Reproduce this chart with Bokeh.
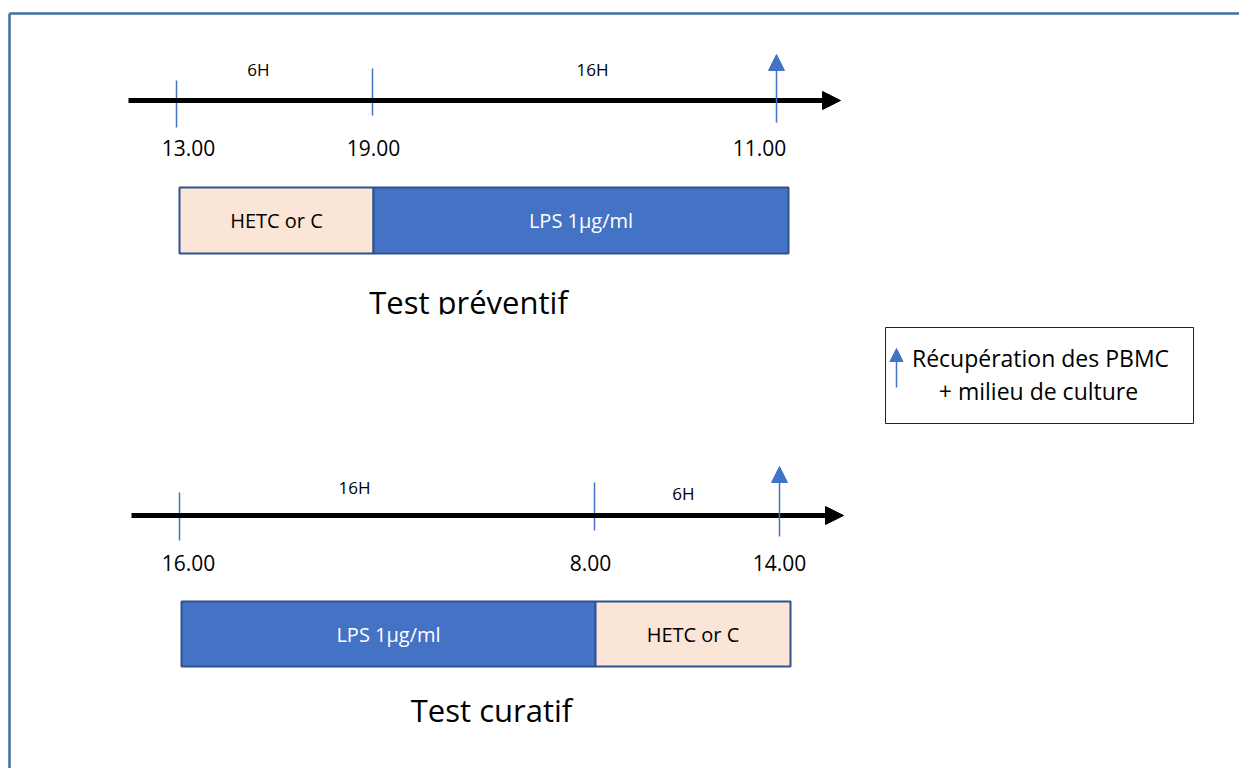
from bokeh.plotting import figure
from bokeh.models import Range1d, Arrow, NormalHead, ColumnDataSource
from bokeh.core.properties import value
from bokeh.embed import file_html
from bokeh.resources import INLINE

# ---------------- data ----------------
prev_times = ["13.00", "19.00", "11.00"]
prev_durations = ["6H", "16H"]
prev_segments = ["HETC or C", "LPS 1µg/ml"]
prev_title = "Test préventif"

cur_times = ["16.00", "8.00", "14.00"]
cur_durations = ["16H", "6H"]
cur_segments = ["LPS 1µg/ml", "HETC or C"]
cur_title = "Test curatif"

legend_lines = ["Récupération des PBMC", "+ milieu de culture"]

# ---------------- layout (pixel coordinates) ----------------
FONT = "Open Sans"
BLUE = "#4472C4"
PEACH = "#FBE5D6"
EDGE = "#2F528F"
FRAME = "#41719C"

W, H = 1239, 768
p = figure(width=W, height=H, output_backend="svg", toolbar_location=None,
           x_range=Range1d(0, W), y_range=Range1d(H, 0),
           min_border=0, outline_line_color=None)
p.axis.visible = False
p.grid.visible = False

# outer frame (top and left edges visible)
p.segment(x0=[9, 9], y0=[13, 13], x1=[W + 50, 9], y1=[13, H + 50],
          line_color=FRAME, line_width=2.5)

seg_fill = {"HETC or C": PEACH, "LPS 1µg/ml": BLUE}
seg_text = {"HETC or C": "black", "LPS 1µg/ml": "white"}


def timeline(y, x0, x1, tick_x, tick_y0, tick_y1, times, time_x,
             durations, dur_x, dur_y, arrow_x, arrow_y0, arrow_y1,
             segments, seg_edges, bar_top, bar_bottom, title, title_x, title_y):
    # main black arrow
    p.add_layout(Arrow(end=NormalHead(size=18, fill_color="black", line_color="black"),
                       x_start=x0, y_start=y, x_end=x1, y_end=y,
                       line_color="black", line_width=5))
    # tick marks
    p.segment(x0=tick_x, y0=tick_y0, x1=tick_x, y1=tick_y1,
              line_color=BLUE, line_width=1.5)
    # harvest arrow
    p.add_layout(Arrow(end=NormalHead(size=16, fill_color=BLUE, line_color=BLUE),
                       x_start=arrow_x, y_start=arrow_y0, x_end=arrow_x, y_end=arrow_y1,
                       line_color=BLUE, line_width=1.5))
    # time labels
    p.text(x=time_x, y=[y + 47] * len(times), text=times, text_align="center",
           text_baseline="middle", text_font=value(FONT), text_font_size="21px",
           text_color="black")
    # duration labels
    p.text(x=dur_x, y=dur_y, text=durations, text_align="center",
           text_baseline="middle", text_font=value(FONT), text_font_size="17px",
           text_color="black")
    # bars
    src = ColumnDataSource(dict(
        left=seg_edges[:-1], right=seg_edges[1:],
        top=[bar_top] * len(segments), bottom=[bar_bottom] * len(segments),
        fill=[seg_fill[s] for s in segments],
        tx=[(a + b) / 2 for a, b in zip(seg_edges[:-1], seg_edges[1:])],
        ty=[(bar_top + bar_bottom) / 2] * len(segments),
        label=segments, tc=[seg_text[s] for s in segments]))
    p.quad(left="left", right="right", top="top", bottom="bottom", source=src,
           fill_color="fill", line_color=EDGE, line_width=2)
    p.text(x="tx", y="ty", text="label", text_color="tc", source=src,
           text_align="center", text_baseline="middle", text_font=value(FONT),
           text_font_size="20px")
    # title
    p.text(x=[title_x], y=[title_y], text=[title], text_align="center",
           text_baseline="middle", text_font=value(FONT), text_font_size="31px",
           text_color="black")


timeline(y=100, x0=128, x1=840,
         tick_x=[176, 372], tick_y0=[80, 68], tick_y1=[127, 115],
         times=prev_times, time_x=[188, 373, 759],
         durations=prev_durations, dur_x=[258, 592], dur_y=[69, 69],
         arrow_x=776, arrow_y0=122, arrow_y1=54,
         segments=prev_segments, seg_edges=[179, 373, 788],
         bar_top=187, bar_bottom=253,
         title=prev_title, title_x=468, title_y=301)

# clipped bottom of the "Test préventif" text box
p.quad(left=[330], right=[610], top=[314], bottom=[326], fill_color="white",
       line_color=None)

timeline(y=515, x0=131, x1=843,
         tick_x=[179, 594], tick_y0=[492, 482], tick_y1=[540, 530],
         times=cur_times, time_x=[188, 590, 779],
         durations=cur_durations, dur_x=[354, 683], dur_y=[487, 493],
         arrow_x=779, arrow_y0=536, arrow_y1=466,
         segments=cur_segments, seg_edges=[181, 595, 790],
         bar_top=601, bar_bottom=666,
         title=cur_title, title_x=491, title_y=709)

# legend box
p.quad(left=[885], right=[1193], top=[327], bottom=[423], fill_color="white",
       line_color="#222222", line_width=1)
p.add_layout(Arrow(end=NormalHead(size=13, fill_color=BLUE, line_color=BLUE),
                   x_start=896, y_start=387, x_end=896, y_end=348,
                   line_color=BLUE, line_width=1.5))
p.text(x=[1040, 1038], y=[357, 390], text=legend_lines, text_align="center",
       text_baseline="middle", text_font=value(FONT), text_font_size="23px",
       text_color="black")

open("out.html", "w").write(file_html(p, INLINE))
